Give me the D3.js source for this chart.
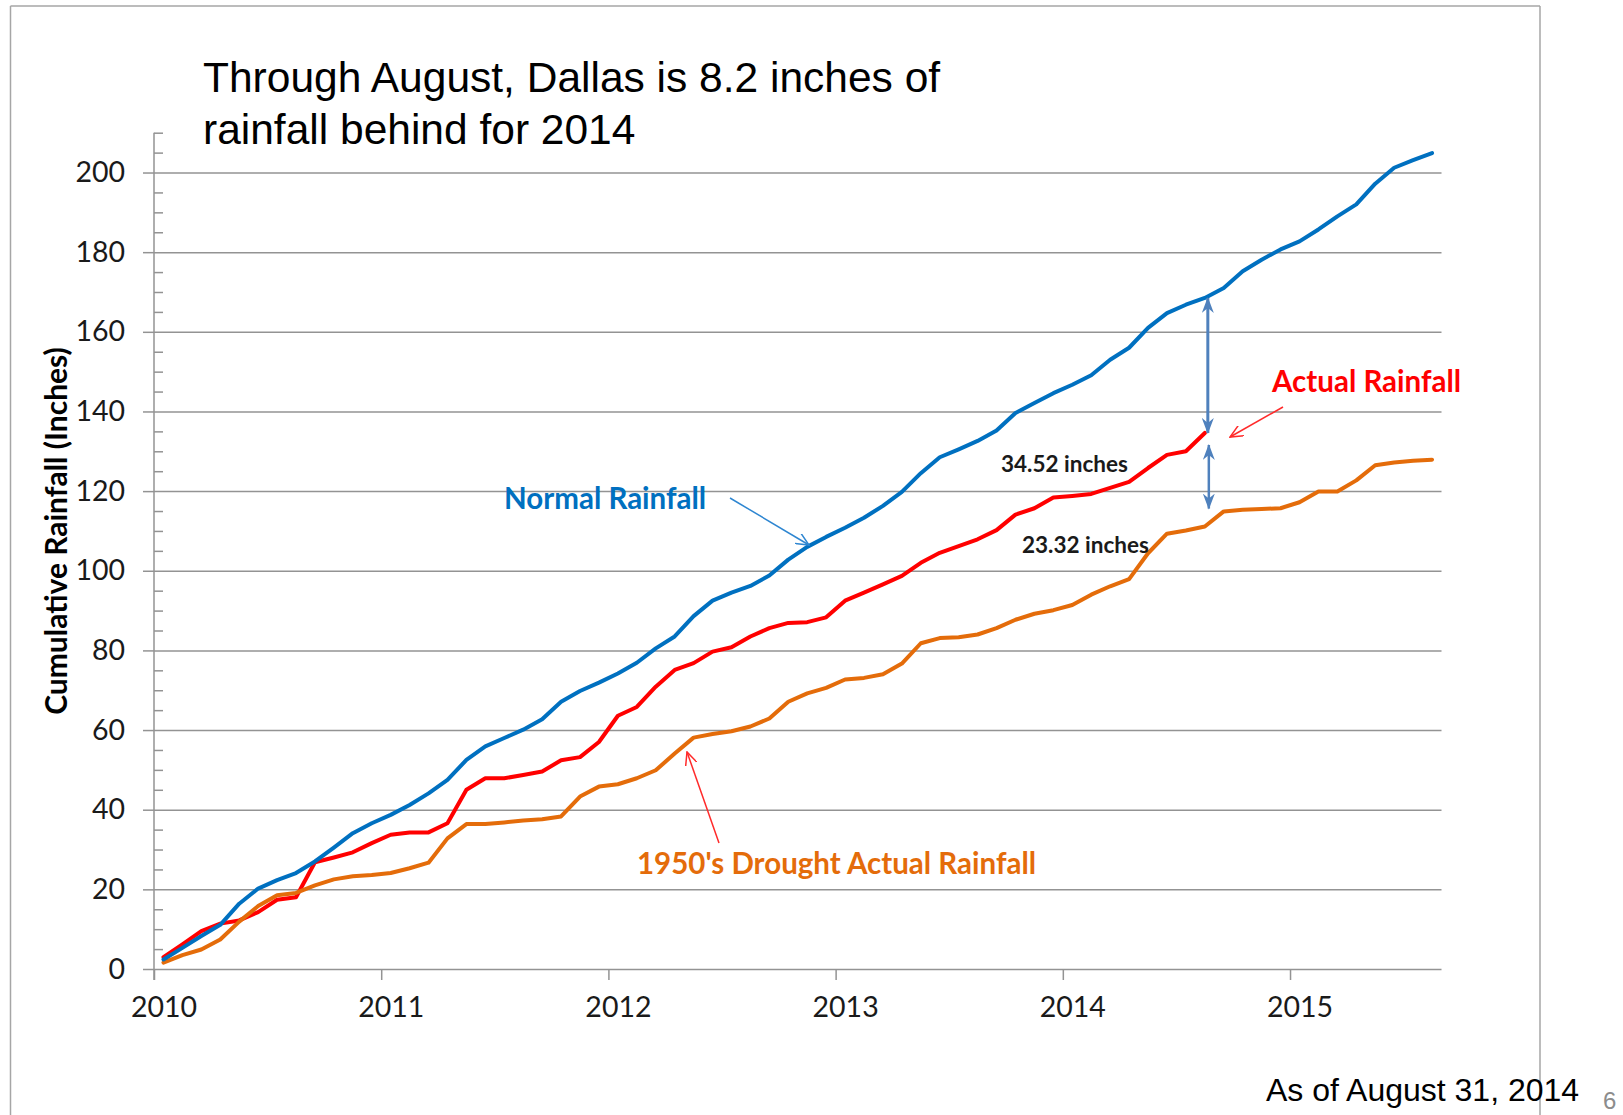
<!DOCTYPE html>
<html>
<head>
<meta charset="utf-8">
<title>Dallas cumulative rainfall</title>
<script src="https://cdnjs.cloudflare.com/ajax/libs/d3/7.8.5/d3.min.js"></script>
<style>
    body { margin: 0; background: #fff; }
    svg { display: block; }
    .grid line { stroke: #939393; stroke-width: 1.5px; }
    .grid path, .axis path { display: none; }
    .axis line { stroke: #939393; stroke-width: 1.5px; }
    .axis text { font-family: Lato, "Open Sans", sans-serif; font-size: 28.5px; fill: #1a1a1a; }
    .series { fill: none; stroke-width: 4px; stroke-linejoin: round; stroke-linecap: round; }
    .note { font-family: Lato, "Open Sans", sans-serif; font-weight: bold; }
    .slide { font-family: "Liberation Sans", Arial, sans-serif; }
</style>
</head>
<body>
<div id="chart"></div>
<script>
    // monthly cumulative rainfall, inches, starting Jan 2010
    var startYear = 2010;
    var yearTicks = [2010, 2011, 2012, 2013, 2014, 2015];

    var normal = [2.4, 5.3, 8.3, 11.1, 16.4, 20.2, 22.3, 24.1, 27.0, 30.5, 34.1, 36.6,
        38.7, 41.2, 44.1, 47.5, 52.5, 55.9, 58.0, 60.1, 62.7, 67.1, 69.8, 71.9,
        74.2, 76.9, 80.5, 83.5, 88.6, 92.5, 94.5, 96.2, 98.8, 102.8, 106.0, 108.5,
        110.8, 113.3, 116.3, 119.8, 124.5, 128.5, 130.5, 132.6, 135.2, 139.6, 142.1, 144.6,
        146.7, 149.1, 153.0, 156.0, 161.0, 164.7, 166.8, 168.5, 171.0, 175.2, 178.1, 180.7,
        182.7, 185.7, 189.0, 192.0, 197.2, 201.2, 203.1, 204.9];

    var actual = [3.0, 6.2, 9.5, 11.4, 12.2, 14.3, 17.4, 18.0, 26.8, 28.0, 29.3, 31.6,
        33.7, 34.3, 34.3, 36.6, 45.0, 47.9, 47.9, 48.7, 49.6, 52.4, 53.2, 57.0,
        63.6, 65.8, 70.9, 75.1, 76.8, 79.7, 80.8, 83.5, 85.6, 86.9, 87.1, 88.3,
        92.5, 94.5, 96.6, 98.7, 102.0, 104.5, 106.2, 107.9, 110.2, 114.1, 115.7, 118.4,
        118.8, 119.3, 120.8, 122.3, 125.8, 129.1, 130.0, 134.6];

    var drought = [1.6, 3.5, 4.9, 7.4, 11.9, 15.8, 18.5, 19.1, 21.0, 22.5, 23.3, 23.6,
        24.1, 25.3, 26.7, 32.8, 36.4, 36.4, 36.8, 37.3, 37.6, 38.3, 43.3, 45.8,
        46.4, 47.9, 49.9, 54.1, 58.1, 59.0, 59.7, 60.9, 62.9, 67.1, 69.2, 70.6,
        72.7, 73.1, 74.0, 76.7, 81.8, 83.1, 83.3, 84.0, 85.6, 87.7, 89.2, 90.1,
        91.4, 94.0, 96.1, 97.9, 104.4, 109.3, 110.1, 111.1, 114.9, 115.3, 115.5, 115.7,
        117.2, 119.9, 119.9, 122.7, 126.5, 127.2, 127.6, 127.9];

    var gapLabels = ["34.52 inches", "23.32 inches"];

    var width = 1623, height = 1115;
    var plotLeft = 154, plotRight = 1441.5, plotTop = 132.7, plotBottom = 969;

    var x = d3.scaleLinear().domain([startYear, startYear + normal.length / 12]).range([plotLeft, plotRight]);
    var y = d3.scaleLinear().domain([0, 210]).range([plotBottom, plotTop]);
    var monthX = function(i) { return x(startYear + (i + 0.5) / 12); };

    var svg = d3.select("#chart").append("svg")
        .attr("width", width).attr("height", height);

    // slide frame
    var frame = svg.append("g").attr("stroke", "#a6a6a6").attr("stroke-width", 1.5);
    frame.append("line").attr("x1", 10.5).attr("x2", 1540).attr("y1", 6).attr("y2", 6);
    frame.append("line").attr("x1", 10.5).attr("x2", 10.5).attr("y1", 6).attr("y2", height);
    frame.append("line").attr("x1", 1540).attr("x2", 1540).attr("y1", 6).attr("y2", height);

    var defs = svg.append("defs");
    function stealth(id, color) {
        defs.append("marker").attr("id", id)
            .attr("viewBox", "0 0 16 12").attr("refX", 15).attr("refY", 6)
            .attr("markerUnits", "userSpaceOnUse")
            .attr("markerWidth", 16).attr("markerHeight", 12)
            .attr("orient", "auto-start-reverse")
            .append("path").attr("d", "M0,0 L16,6 L0,12 L5,6 z").attr("fill", color);
    }
    function openHead(id, color) {
        defs.append("marker").attr("id", id)
            .attr("viewBox", "0 0 14 12").attr("refX", 13).attr("refY", 6)
            .attr("markerUnits", "userSpaceOnUse")
            .attr("markerWidth", 14).attr("markerHeight", 12)
            .attr("orient", "auto")
            .append("path").attr("d", "M0,0 L13,6 L0,12")
            .attr("fill", "none").attr("stroke", color).attr("stroke-width", 1.5);
    }
    stealth("gap", "#4f81bd");
    openHead("headBlue", "#2e86d1");
    openHead("headRed", "#ff2a2a");

    // gridlines
    svg.append("g").attr("class", "grid")
        .attr("transform", "translate(" + plotLeft + ",0)")
        .call(d3.axisLeft(y).tickValues(d3.range(0, 201, 20))
            .tickSize(-(plotRight - plotLeft)).tickFormat(""));

    // y axis
    svg.append("line").attr("stroke", "#939393").attr("stroke-width", 1.5)
        .attr("x1", plotLeft).attr("x2", plotLeft).attr("y1", y(210)).attr("y2", plotBottom + 11);

    svg.append("g").attr("class", "axis")
        .attr("transform", "translate(" + plotLeft + ",0)")
        .call(d3.axisLeft(y).tickValues(d3.range(0, 201, 20)).tickSize(11).tickPadding(18));

    svg.append("g").attr("class", "axis")
        .attr("transform", "translate(" + plotLeft + ",0)")
        .call(d3.axisRight(y).tickValues(d3.range(5, 211, 5).filter(function(v) { return v % 20 != 0; }))
            .tickSize(9).tickFormat(""));

    // x axis, labels sit a little right of their ticks as in the original
    var xAxis = svg.append("g").attr("class", "axis")
        .attr("transform", "translate(0," + plotBottom + ")")
        .call(d3.axisBottom(x).tickValues(yearTicks).tickSize(11).tickPadding(17)
            .tickFormat(d3.format("d")));
    xAxis.selectAll(".tick text").attr("dx", 9.5);

    // axis title
    svg.append("text").attr("class", "note")
        .attr("transform", "translate(67,531) rotate(-90)")
        .attr("text-anchor", "middle")
        .style("font-size", "30px").style("fill", "#000")
        .text("Cumulative Rainfall (Inches)");

    // series
    var line = d3.line()
        .x(function(d, i) { return monthX(i); })
        .y(function(d) { return y(d); });

    svg.append("path").datum(actual).attr("class", "series").attr("stroke", "#ff0000").attr("d", line);
    svg.append("path").datum(drought).attr("class", "series").attr("stroke", "#e46c0a").attr("d", line);
    svg.append("path").datum(normal).attr("class", "series").attr("stroke", "#0070c0").attr("d", line);

    // gap arrows at the last actual month
    var last = actual.length - 1;
    var gx = monthX(last) + 3;
    svg.append("line")
        .attr("x1", gx).attr("x2", gx)
        .attr("y1", y(normal[last])).attr("y2", y(actual[last]))
        .attr("stroke", "#4f81bd").attr("stroke-width", 3)
        .attr("marker-start", "url(#gap)").attr("marker-end", "url(#gap)");
    svg.append("line")
        .attr("x1", gx + 1).attr("x2", gx + 1)
        .attr("y1", y(actual[last]) + 12).attr("y2", y(drought[last]) - 18)
        .attr("stroke", "#4f81bd").attr("stroke-width", 2.5)
        .attr("marker-start", "url(#gap)").attr("marker-end", "url(#gap)");

    svg.append("text").attr("class", "note").style("font-size", "22.5px").style("fill", "#1a1a1a")
        .attr("x", 1001).attr("y", 471.5).text(gapLabels[0]);
    svg.append("text").attr("class", "note").style("font-size", "22.5px").style("fill", "#1a1a1a")
        .attr("x", 1022).attr("y", 553).text(gapLabels[1]);

    // series labels and pointers
    svg.append("text").attr("class", "note").style("font-size", "29.5px").style("fill", "#0070c0")
        .attr("x", 504).attr("y", 508.5).text("Normal Rainfall");
    svg.append("line").attr("x1", 730).attr("y1", 498).attr("x2", 809).attr("y2", 545)
        .attr("stroke", "#2e86d1").attr("stroke-width", 1.5).attr("marker-end", "url(#headBlue)");

    svg.append("text").attr("class", "note").style("font-size", "29.5px").style("fill", "#ff0000")
        .attr("x", 1272).attr("y", 391.5).text("Actual Rainfall");
    svg.append("line").attr("x1", 1283).attr("y1", 407).attr("x2", 1230).attr("y2", 437)
        .attr("stroke", "#ff2a2a").attr("stroke-width", 1.5).attr("marker-end", "url(#headRed)");

    svg.append("text").attr("class", "note").style("font-size", "29.5px").style("fill", "#e46c0a")
        .attr("x", 637).attr("y", 873.5).text("1950's Drought Actual Rainfall");
    svg.append("line").attr("x1", 719).attr("y1", 843).attr("x2", 687).attr("y2", 752)
        .attr("stroke", "#ff2a2a").attr("stroke-width", 1.5).attr("marker-end", "url(#headRed)");

    // slide text
    svg.append("text").attr("class", "slide").style("font-size", "42.5px").style("fill", "#000")
        .attr("x", 203).attr("y", 91.5).text("Through August, Dallas is 8.2 inches of");
    svg.append("text").attr("class", "slide").style("font-size", "42.5px").style("fill", "#000")
        .attr("x", 203).attr("y", 143.5).text("rainfall behind for 2014");
    svg.append("text").attr("class", "slide").style("font-size", "32px").style("fill", "#000")
        .attr("x", 1266).attr("y", 1101).text("As of August 31, 2014");
    svg.append("text").attr("class", "slide").style("font-size", "24px").style("fill", "#8c8c8c")
        .attr("x", 1603).attr("y", 1109).text("6");
</script>
</body>
</html>
